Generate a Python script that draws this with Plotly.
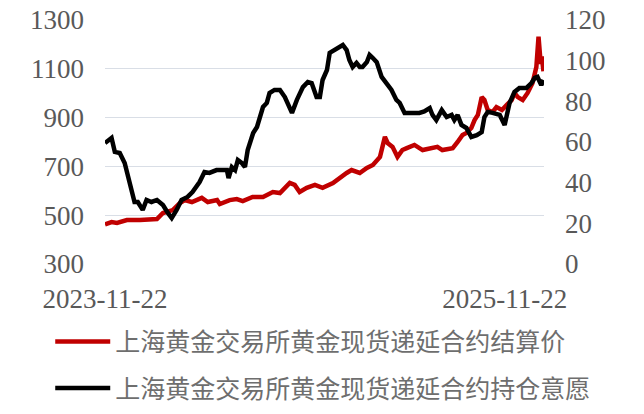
import plotly.graph_objects as go

# 上海黄金交易所黄金现货递延合约结算价 (left axis)
price_dates = [
    "2023-11-22", "2023-12-04", "2023-12-14", "2024-01-01", "2024-01-25", "2024-02-25",
    "2024-03-07", "2024-03-25", "2024-04-07", "2024-04-16", "2024-04-29", "2024-05-17",
    "2024-05-28", "2024-06-14", "2024-06-19", "2024-07-07", "2024-07-20", "2024-07-31",
    "2024-08-18", "2024-09-06", "2024-09-24", "2024-10-07", "2024-10-25", "2024-11-03",
    "2024-11-12", "2024-11-25", "2024-12-10", "2024-12-24", "2025-01-12", "2025-01-24",
    "2025-02-06", "2025-02-15", "2025-03-02", "2025-03-15", "2025-03-26", "2025-04-08",
    "2025-04-17", "2025-04-22", "2025-05-01", "2025-05-10", "2025-05-19", "2025-05-27",
    "2025-06-10", "2025-06-25", "2025-07-13", "2025-07-22", "2025-07-31", "2025-08-19",
    "2025-08-28", "2025-09-06", "2025-09-13", "2025-09-22", "2025-09-28", "2025-10-04",
    "2025-10-11", "2025-10-16", "2025-10-22", "2025-10-31", "2025-11-07", "2025-11-17",
    "2025-11-26", "2025-12-05", "2025-12-10", "2025-12-16", "2025-12-25", "2026-01-03",
    "2026-01-12", "2026-01-19", "2026-01-23", "2026-01-27", "2026-01-29", "2026-02-01",
]
price_values = [
    462, 472, 468, 480, 480, 484,
    509, 521, 550, 562, 554, 571,
    554, 562, 546, 562, 566, 558,
    575, 575, 595, 591, 632, 624,
    595, 612, 624, 612, 632, 653,
    673, 685, 673, 694, 706, 739,
    821, 796, 780, 739, 767, 775,
    788, 767, 775, 780, 767, 775,
    800, 829, 837, 857, 890, 911,
    984, 972, 931, 923, 943, 931,
    952, 972, 1001, 984, 972, 1001,
    1042, 1107, 1232, 1120, 1150, 1090,
]

# 上海黄金交易所黄金现货递延合约持仓意愿 (right axis)
willing_dates = [
    "2023-11-22", "2023-11-28", "2023-12-04", "2023-12-10", "2023-12-19", "2023-12-28",
    "2024-01-03", "2024-01-10", "2024-01-15", "2024-01-21", "2024-01-30", "2024-02-06",
    "2024-02-15", "2024-02-25", "2024-03-07", "2024-03-16", "2024-03-23", "2024-04-01",
    "2024-04-10", "2024-04-21", "2024-04-30", "2024-05-13", "2024-05-22", "2024-05-31",
    "2024-06-06", "2024-06-13", "2024-06-24", "2024-07-02", "2024-07-05", "2024-07-11",
    "2024-07-17", "2024-07-22", "2024-07-29", "2024-08-04", "2024-08-09", "2024-08-19",
    "2024-08-26", "2024-08-31", "2024-09-06", "2024-09-13", "2024-09-18", "2024-09-27",
    "2024-10-07", "2024-10-16", "2024-10-25", "2024-10-29", "2024-11-07", "2024-11-18",
    "2024-11-27", "2024-12-04", "2024-12-13", "2024-12-19", "2024-12-24", "2025-01-01",
    "2025-01-06", "2025-01-15", "2025-01-24", "2025-01-30", "2025-02-06", "2025-02-11",
    "2025-02-17", "2025-02-24", "2025-03-02", "2025-03-07", "2025-03-15", "2025-03-20",
    "2025-03-26", "2025-04-02", "2025-04-11", "2025-04-20", "2025-04-29", "2025-05-08",
    "2025-05-14", "2025-05-23", "2025-06-07", "2025-06-19", "2025-06-28", "2025-07-08",
    "2025-07-13", "2025-07-20", "2025-07-30", "2025-08-08", "2025-08-17", "2025-08-22",
    "2025-08-28", "2025-09-04", "2025-09-13", "2025-09-22", "2025-10-02", "2025-10-11",
    "2025-10-16", "2025-10-22", "2025-10-31", "2025-11-13", "2025-11-22", "2025-12-01",
    "2025-12-10", "2025-12-19", "2026-01-01", "2026-01-10", "2026-01-16", "2026-01-21",
    "2026-01-28", "2026-02-01",
]
willing_values = [
    59.5, 61, 62, 55.1, 54.6, 49.7,
    42.8, 34.9, 30.5, 30.5, 26.6, 31.5,
    30.5, 31.5, 29, 25.1, 22.6, 26.6,
    31.5, 33, 35.4, 40.3, 45.2, 44.8,
    45.7, 46.2, 46.2, 46.2, 42.3, 47.7,
    46.2, 51.1, 49.7, 47.7, 56, 64.4,
    67.4, 72.3, 77.2, 79.2, 84.1, 85.6,
    85.6, 82.1, 75.7, 74.3, 80.7, 87,
    89.5, 89, 82.1, 82.1, 90.5, 95.4,
    103.8, 105.2, 106.2, 107.7, 105.2, 100.3,
    96.9, 98.9, 96.9, 96.9, 99.3, 102.8,
    101.3, 99.3, 92, 89, 85.6, 80.7,
    79.2, 74.3, 74.3, 74.3, 75, 76.7,
    73.3, 70.8, 75.7, 72.3, 73.3, 70.8,
    73.3, 68.4, 66.9, 62.5, 63.4, 64.9,
    72.3, 74.8, 74.3, 73.3, 68.4, 79.2,
    84.6, 86.6, 86.6, 89, 91.5, 92,
    88, 90.5,
]

x_tick_labels = ["2023-11-22", "2025-11-22"]
left_ticks = [300, 500, 700, 900, 1100, 1300]
right_ticks = [0, 20, 40, 60, 80, 100, 120]

names = ["上海黄金交易所黄金现货递延合约结算价", "上海黄金交易所黄金现货递延合约持仓意愿"]

num_font = dict(family="Liberation Serif, DejaVu Serif, serif", size=27, color="#595959")

fig = go.Figure()
fig.add_trace(go.Scatter(
    x=price_dates, y=price_values, name=names[0], mode="lines",
    line=dict(color="#C00000", width=4.5), yaxis="y", legendgroup="a",
))
fig.add_trace(go.Scatter(
    x=willing_dates, y=willing_values, name=names[1], mode="lines",
    line=dict(color="#000000", width=4.5), yaxis="y2", legendgroup="b",
))

fig.update_layout(
    width=644, height=414,
    margin=dict(l=105, r=100, t=20, b=150, autoexpand=False),
    paper_bgcolor="white", plot_bgcolor="white",
    showlegend=True,
    legend=dict(
        orientation="v", xref="container", yref="container",
        x=0.078, y=0.230, xanchor="left", yanchor="top",
        font=dict(family="Noto Sans CJK SC", size=25, color="#6e6e6e"),
        itemwidth=55, tracegroupgap=11, traceorder="grouped",
        bgcolor="rgba(0,0,0,0)",
    ),
    xaxis=dict(
        type="date", range=["2023-11-22", "2026-02-02"],
        tickvals=x_tick_labels, ticktext=x_tick_labels,
        showgrid=False, showline=False, zeroline=False, ticks="",
        tickfont=num_font, ticklabelstandoff=16,
    ),
    yaxis=dict(
        range=[300, 1300], tickvals=left_ticks,
        showgrid=True, gridcolor="#D9DEE6", gridwidth=1,
        zeroline=False, showline=False, ticks="",
        tickfont=num_font, ticklabelstandoff=20,
    ),
    yaxis2=dict(
        range=[0, 120], tickvals=right_ticks, overlaying="y", side="right",
        showgrid=False, zeroline=False, showline=False, ticks="",
        tickfont=num_font, ticklabelstandoff=20,
    ),
)

fig.write_html(
    "out.html",
    config={"displayModeBar": False},
    post_script="document.body.style.margin='0px';",
)
